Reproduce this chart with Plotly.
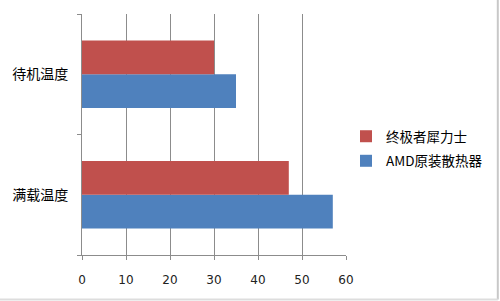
import plotly.graph_objects as go

categories = ["满载温度", "待机温度"]
amd_values = [57, 35]
titan_values = [47, 30]
series_names = ["AMD原装散热器", "终极者犀力士"]
x_ticks = [0, 10, 20, 30, 40, 50, 60]

fig = go.Figure()
fig.add_trace(go.Bar(y=categories, x=amd_values, orientation="h", name=series_names[0],
                     legendgroup="a", legendrank=2, marker=dict(color="#4F81BD", line=dict(width=0))))
fig.add_trace(go.Bar(y=categories, x=titan_values, orientation="h", name=series_names[1],
                     legendgroup="b", legendrank=1, marker=dict(color="#C0504D", line=dict(width=0))))

fig.update_layout(
    width=500, height=301,
    margin=dict(l=82, r=154, t=14, b=46, autoexpand=False),
    paper_bgcolor="white", plot_bgcolor="white",
    barmode="group", bargap=0.44, bargroupgap=0,
    font=dict(family="Noto Sans CJK SC", color="#000000"),
    legend=dict(x=1.0, y=0.44, xanchor="left", yanchor="middle",
                traceorder="grouped", font=dict(size=13.5, family="Noto Sans CJK SC"),
                itemwidth=30, tracegroupgap=4, bgcolor="rgba(0,0,0,0)"),
    showlegend=True,
)
fig.update_xaxes(range=[0, 60], tickvals=x_ticks, showgrid=True, gridcolor="#8C8C8C", gridwidth=1,
                 showline=True, linecolor="#8C8C8C", linewidth=1, ticks="outside", ticklen=4,
                 tickcolor="#8C8C8C", ticklabelstandoff=10, zeroline=False, automargin=False,
                 tickfont=dict(size=12, family="DejaVu Sans", color="#222222"))
fig.update_yaxes(categoryorder="array", categoryarray=categories, showgrid=False,
                 showline=True, linecolor="#8C8C8C", linewidth=1, ticks="outside", ticklen=4,
                 tickcolor="#8C8C8C", tickson="boundaries", ticklabelstandoff=10, automargin=False,
                 tickfont=dict(size=14, family="Noto Sans CJK SC", color="#000000"))

fig.add_shape(type="line", xref="paper", yref="paper", x0=1.575, x1=1.575, y0=-0.185, y1=1.06,
              line=dict(color="#C8C8C8", width=2))
fig.add_shape(type="line", xref="paper", yref="paper", x0=-0.32, x1=1.575, y0=-0.185, y1=-0.185,
              line=dict(color="#DDDDDD", width=2))

fig.write_html("out.html")
